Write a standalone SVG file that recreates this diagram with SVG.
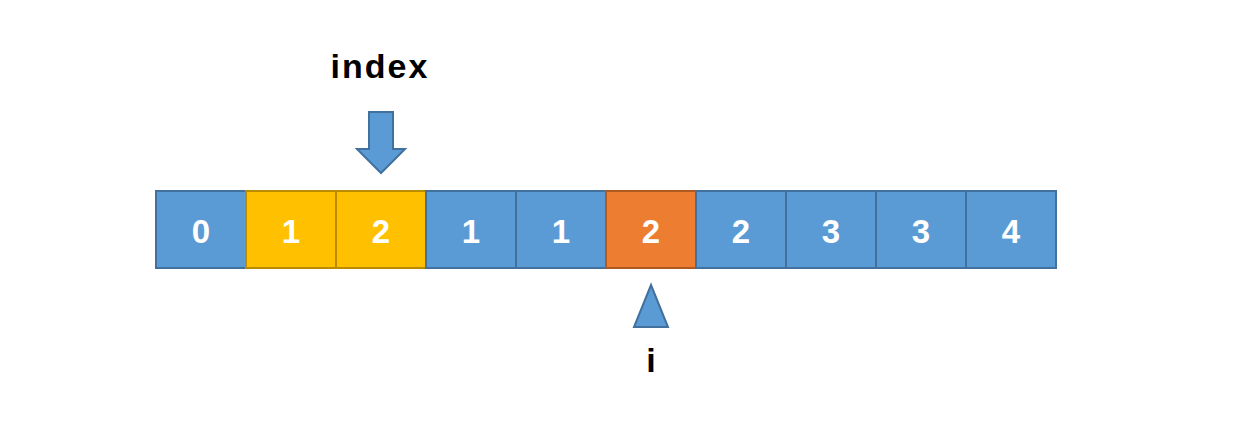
<svg xmlns="http://www.w3.org/2000/svg" width="1248" height="446" viewBox="0 0 1248 446">
<style>
.b{fill:#5B9BD5;stroke:#41719C;stroke-width:2}
.y{fill:#FFC000;stroke:#BC8C00;stroke-width:2}
.o{fill:#ED7D31;stroke:#AE5A21;stroke-width:2}
.n{font-family:"Liberation Sans",Arial,sans-serif;font-size:33px;font-weight:bold;fill:#fff;text-anchor:middle}
.l{font-family:"Liberation Sans",Arial,sans-serif;font-size:34px;font-weight:bold;fill:#000;text-anchor:middle}
</style>
<rect width="1248" height="446" fill="#fff"/>
<g id="cells">
<g id="c0"><rect class="b" x="156" y="191" width="90" height="77"/><text class="n" x="201" y="243">0</text></g>
<g id="c1"><rect class="y" x="246" y="191" width="90" height="77"/><text class="n" x="291" y="243">1</text></g>
<g id="c2"><rect class="y" x="336" y="191" width="90" height="77"/><text class="n" x="381" y="243">2</text></g>
<g id="c3"><rect class="b" x="426" y="191" width="90" height="77"/><text class="n" x="471" y="243">1</text></g>
<g id="c4"><rect class="b" x="516" y="191" width="90" height="77"/><text class="n" x="561" y="243">1</text></g>
<g id="c5"><rect class="o" x="606" y="191" width="90" height="77"/><text class="n" x="651" y="243">2</text></g>
<g id="c6"><rect class="b" x="696" y="191" width="90" height="77"/><text class="n" x="741" y="243">2</text></g>
<g id="c7"><rect class="b" x="786" y="191" width="90" height="77"/><text class="n" x="831" y="243">3</text></g>
<g id="c8"><rect class="b" x="876" y="191" width="90" height="77"/><text class="n" x="921" y="243">3</text></g>
<g id="c9"><rect class="b" x="966" y="191" width="90" height="77"/><text class="n" x="1011" y="243">4</text></g>
</g>
<g id="index-pointer">
<text class="l" x="380" y="78" letter-spacing="2">index</text>
<path class="b" d="M369,112 H393 V149 H405 L381,173 L357,149 H369 Z"/>
</g>
<g id="i-pointer">
<path class="b" d="M651,285 L668,327 H634 Z"/>
<text class="l" x="651" y="372">i</text>
</g>
</svg>
